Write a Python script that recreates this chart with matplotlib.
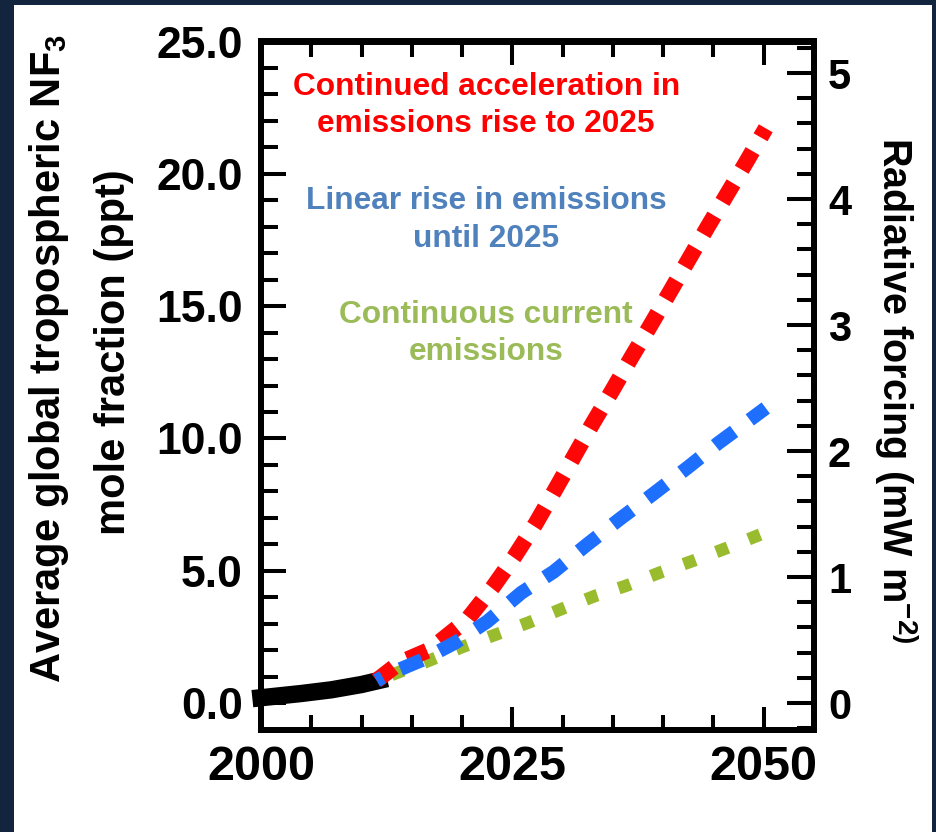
import numpy as np
import matplotlib
matplotlib.use("Agg")
from matplotlib import pyplot as plt
from matplotlib.patches import Rectangle
from matplotlib.ticker import MultipleLocator, FormatStrFormatter

plt.rcParams['font.family'] = ['Liberation Sans', 'DejaVu Sans']
plt.rcParams['font.weight'] = 'bold'
plt.rcParams['mathtext.fontset'] = 'custom'
plt.rcParams['mathtext.rm'] = 'Liberation Sans:bold'
plt.rcParams['mathtext.it'] = 'Liberation Sans:bold'
plt.rcParams['mathtext.bf'] = 'Liberation Sans:bold'
plt.rcParams['mathtext.default'] = 'rm'
plt.rcParams['lines.scale_dashes'] = False

# observed NF3 (black)
obs_years = [2000, 2004, 2007, 2010, 2011.7]
obs_ppt = [0.20, 0.36, 0.50, 0.70, 0.85]

# scenario: continued acceleration in emissions (red)
accel_years = [2011.5, 2013.8, 2016.8, 2020.5, 2023.1, 2025.2, 2027.3, 2029.3, 2031.1, 2032.9,
               2034.9, 2036.8, 2038.7, 2040.6, 2042.5, 2044.4, 2046.4, 2048.3, 2050.2]
accel_ppt = [0.85, 1.53, 2.02, 3.15, 4.40, 5.53, 6.77, 8.09, 9.30, 10.51,
             11.79, 13.04, 14.25, 15.49, 16.74, 17.98, 19.26, 20.47, 21.72]

# scenario: linear rise until 2025 (blue)
linear_years = [2011.5, 2012.6, 2016.1, 2019.3, 2022.5, 2025.9, 2029.1, 2032.4, 2035.7,
                2038.9, 2042.4, 2045.5, 2049.0, 2050.2]
linear_ppt = [0.85, 1.08, 1.64, 2.28, 3.08, 4.17, 4.96, 5.98, 6.96,
              7.87, 8.89, 9.83, 10.81, 11.15]

# scenario: continuous current emissions (green)
const_years = [2011.5, 2016.5, 2020.1, 2023.3, 2026.6, 2030.0, 2033.3, 2036.3, 2039.6,
               2043.0, 2046.4, 2049.6, 2050.2]
const_ppt = [0.85, 1.57, 2.13, 2.58, 3.04, 3.57, 4.06, 4.43, 4.92,
             5.38, 5.87, 6.36, 6.45]

rf_per_ppt = 0.21  # mW m-2 per ppt
ylim_ppt = (-1.0, 25.0)

W, H = 937, 832
fig = plt.figure(figsize=(W / 100, H / 100), dpi=100, facecolor='#13243f')
fig.patches.append(Rectangle((14 / W, 0), (932 - 14) / W, (H - 5) / H, transform=fig.transFigure,
                             facecolor='white', edgecolor='none', zorder=-1))

ax = fig.add_axes([261 / W, (H - 729.5) / H, (814 - 261) / W, (729.5 - 41.5) / H])
ax.set_facecolor('none')

ax.plot(obs_years, obs_ppt, color='black', lw=12.5, solid_capstyle='projecting',
        clip_on=False, zorder=3)
ax.plot(const_years, const_ppt, color='#99bb2e', lw=9, ls=(13.5, (9, 16)), zorder=4)
ax.plot(accel_years, accel_ppt, color='#ff0707', lw=11.5, ls=(0, (15.5, 11.5)), zorder=5)
ax.plot(linear_years, linear_ppt, color='#1f6fff', lw=10, ls=(12, (17, 14)), zorder=6)

ax.set_xlim(2000, 2055)
ax.set_ylim(*ylim_ppt)

for s in ax.spines.values():
    s.set_linewidth(4.3)

ax.xaxis.set_major_locator(MultipleLocator(25))
ax.xaxis.set_minor_locator(MultipleLocator(5))
ax.yaxis.set_major_locator(MultipleLocator(5))
ax.yaxis.set_minor_locator(MultipleLocator(1))
ax.yaxis.set_major_formatter(FormatStrFormatter('%.1f'))

ax.tick_params(axis='x', which='both', direction='in', top=True, bottom=True, width=2.9,
               labelsize=35, pad=11)
ax.tick_params(axis='x', which='major', length=16.5)
ax.tick_params(axis='x', which='minor', length=11)
ax.tick_params(axis='y', which='both', direction='in', left=True, right=False, width=2.9,
               labelsize=32, pad=13)
ax.tick_params(axis='y', which='major', length=18)
ax.tick_params(axis='y', which='minor', length=12)

ax2 = ax.twinx()
ax2.set_ylim(ylim_ppt[0] * rf_per_ppt, ylim_ppt[1] * rf_per_ppt)
ax2.yaxis.set_major_locator(MultipleLocator(1))
ax2.yaxis.set_minor_locator(MultipleLocator(0.2))
ax2.yaxis.set_major_formatter(FormatStrFormatter('%d'))
ax2.tick_params(axis='y', which='both', direction='in', width=2.9, labelsize=30, pad=10)
ax2.tick_params(axis='y', which='major', length=19.5)
ax2.tick_params(axis='y', which='minor', length=12)
for s in ax2.spines.values():
    s.set_linewidth(4.3)

# annotations
x_txt = 2022.4
ax.text(x_txt, 22.96, 'Continued acceleration in', color='#ff0000', fontsize=22.8,
        ha='center', va='baseline')
ax.text(x_txt, 21.57, 'emissions rise to 2025', color='#ff0000', fontsize=22.8,
        ha='center', va='baseline')
ax.text(x_txt, 18.66, 'Linear rise in emissions', color='#4f81bd', fontsize=22.8,
        ha='center', va='baseline')
ax.text(x_txt, 17.23, 'until 2025', color='#4f81bd', fontsize=22.8,
        ha='center', va='baseline')
ax.text(x_txt, 14.36, 'Continuous current', color='#9bbb59', fontsize=22.8,
        ha='center', va='baseline')
ax.text(x_txt, 12.96, 'emissions', color='#9bbb59', fontsize=22.8,
        ha='center', va='baseline')

# axis titles
fig.text(60 / W, (H - 358) / H, 'Average global tropospheric NF$_3$', fontsize=30,
         rotation=90, rotation_mode='anchor', ha='center', va='baseline')
fig.text(125 / W, (H - 352) / H, 'mole fraction (ppt)', fontsize=30,
         rotation=90, rotation_mode='anchor', ha='center', va='baseline')
fig.text(882 / W, (H - 390) / H, 'Radiative forcing (mW m$^{-2)}$', fontsize=28.5,
         rotation=270, rotation_mode='anchor', ha='center', va='baseline')

fig.savefig('out.png', dpi=100, facecolor=fig.get_facecolor())
